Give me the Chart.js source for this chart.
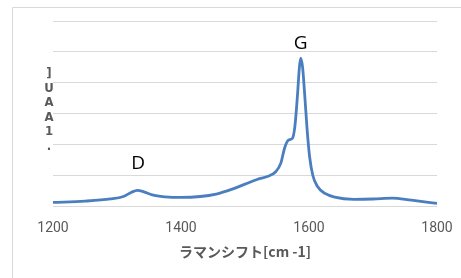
<!DOCTYPE html>
<html>
<head>
<meta charset="utf-8">
<script src="https://cdn.jsdelivr.net/npm/chart.js@4"></script>
<style>
  html, body { margin: 0; padding: 0; background: #fff; }
  #wrap { width: 461px; height: 278px; position: relative; }
</style>
</head>
<body>
<div id="wrap"><canvas id="chartRaman" width="461" height="278"></canvas></div>
<script>
const ramanShift = [1200, 1250, 1290, 1310, 1322, 1332, 1342, 1355, 1375, 1400, 1430, 1455, 1480, 1500, 1520, 1535, 1548, 1556, 1562, 1568, 1574, 1578, 1582, 1585, 1587, 1590, 1593, 1597, 1601, 1606, 1613, 1625, 1640, 1670, 1700, 1730, 1760, 1800];
const intensity  = [0.13, 0.17, 0.24, 0.32, 0.45, 0.52, 0.47, 0.37, 0.31, 0.29, 0.32, 0.40, 0.56, 0.72, 0.88, 0.97, 1.12, 1.40, 1.90, 2.15, 2.20, 2.60, 3.60, 4.50, 4.80, 4.50, 3.70, 2.50, 1.60, 1.00, 0.65, 0.42, 0.30, 0.23, 0.24, 0.27, 0.20, 0.10];
const xTicks = [1200, 1400, 1600, 1800];
const peakNames = ['D', 'G'];
const peakX = [1333, 1587];
const peakY = [1.37, 5.28];
const yTitleGlyphs = [']', 'U', 'A', 'A', '1', '.'];

// outer frame, peak letters and the odd vertical y title
const extras = {
  id: 'extras',
  beforeDraw(chart) {
    const ctx = chart.ctx;
    ctx.save();
    ctx.strokeStyle = '#d9d9d9';
    ctx.lineWidth = 1;
    ctx.beginPath();
    ctx.moveTo(12.5, 278);
    ctx.lineTo(12.5, 7.5);
    ctx.lineTo(461, 7.5);
    ctx.stroke();
    ctx.restore();
  },
  afterDatasetsDraw(chart) {
    const ctx = chart.ctx;
    const xs = chart.scales.x, ys = chart.scales.y;
    ctx.save();
    ctx.fillStyle = '#000';
    ctx.font = '19px "Open Sans", sans-serif';
    ctx.textAlign = 'center';
    ctx.textBaseline = 'middle';
    peakNames.forEach((n, i) => {
      ctx.fillText(n, xs.getPixelForValue(peakX[i]), ys.getPixelForValue(peakY[i]));
    });
    ctx.fillStyle = '#595959';
    ctx.font = 'bold 13px "DejaVu Sans Condensed", sans-serif';
    yTitleGlyphs.forEach((g, i) => {
      ctx.fillText(g, 49, 74 + i * 14.5);
    });
    ctx.restore();
  }
};

new Chart(document.getElementById('chartRaman'), {
  type: 'line',
  data: {
    datasets: [{
      data: ramanShift.map((x, i) => ({ x: x, y: intensity[i] })),
      borderColor: '#4a7ebf',
      borderWidth: 2.8,
      pointRadius: 0,
      fill: false,
      cubicInterpolationMode: 'monotone'
    }]
  },
  options: {
    responsive: false,
    animation: false,
    layout: { padding: { left: 53, right: 24, top: 21, bottom: 18 } },
    plugins: { legend: { display: false }, tooltip: { enabled: false } },
    scales: {
      x: {
        type: 'linear',
        min: 1200, max: 1800,
        afterBuildTicks: s => { s.ticks = xTicks.map(v => ({ value: v })); },
        grid: { display: false },
        border: { display: false },
        ticks: {
          color: '#595959', font: { family: 'Roboto', size: 14 }, padding: 6, maxRotation: 0,
          callback: v => String(v)
        },
        title: {
          display: true,
          text: 'ラマンシフト[cm -1]',
          color: '#595959',
          font: { family: '"Noto Sans CJK JP"', size: 14, weight: 'bold' },
          padding: { top: 0, bottom: 0 }
        }
      },
      y: {
        min: 0, max: 6,
        ticks: { display: false, stepSize: 1 },
        grid: { color: '#d9d9d9', lineWidth: 1, drawTicks: false },
        border: { display: false }
      }
    }
  },
  plugins: [extras]
});
</script>
</body>
</html>
